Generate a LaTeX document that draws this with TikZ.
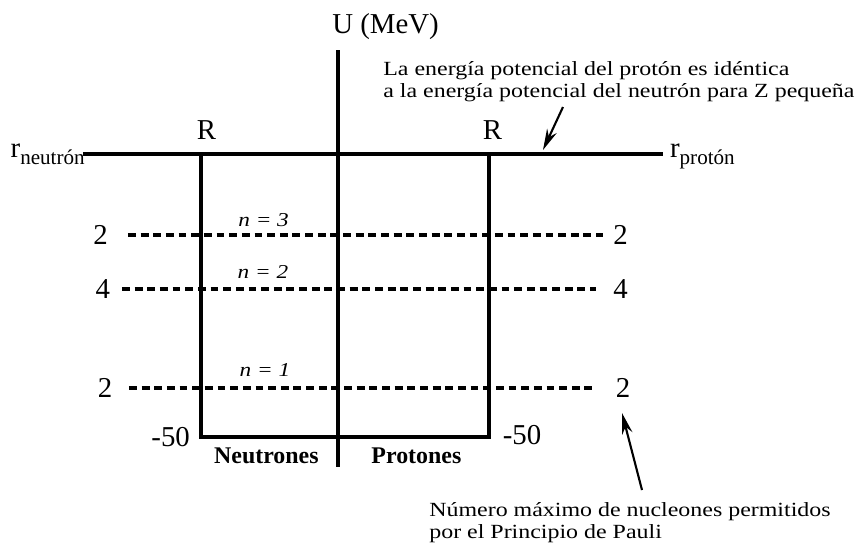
\documentclass[tikz,border=0pt]{standalone}
\usepackage{fontspec}
\setmainfont{Liberation Serif}
\usetikzlibrary{arrows.meta, positioning}

\tikzset{
  axisline/.style={line width=2.5pt},
  levelline/.style={line width=2.5pt, dash pattern=on 5.6pt off 3.4pt},
  biglabel/.style={font=\fontsize{20.5}{24}\selectfont, inner sep=2pt},
  notelabel/.style={font=\fontsize{14.3}{15.6}\selectfont, align=left, inner sep=0pt, xscale=1.19, transform shape},
  nlabel/.style={font=\fontsize{14}{17}\selectfont\itshape, inner sep=1pt, xscale=1.18, transform shape},
  sidelabel/.style={font=\fontsize{17}{20}\selectfont\bfseries, inner sep=1pt},
  pointer/.style={-{Stealth[length=15pt, width=7.5pt]}, line width=1.5pt},
}
\newcommand{\rsub}[1]{r\raisebox{-5.5pt}{\fontsize{15}{17}\selectfont #1}}

\begin{document}
\begin{tikzpicture}
    \useasboundingbox (-8.45,-10) rectangle (13.075,3.85);

    % Axes
    \coordinate (rleft) at (-6.375,0);
    \coordinate (rright) at (8.125,0);
    \coordinate (utop) at (0,2.6);
    \coordinate (ubottom) at (0,-7.825);
    \draw[axisline] (rleft) -- (rright);
    \draw[axisline] (utop) -- (ubottom);
    \node (ulabel) [biglabel, anchor=base] at (1.19,3.025) {U (MeV)};
    \node (rneutron) [biglabel, anchor=base east, xshift=0.12cm, yshift=-0.075cm] at (rleft) {\rsub{neutrón}};
    \node (rproton) [biglabel, anchor=base west, xshift=0.1cm, yshift=-0.075cm] at (rright) {\rsub{protón}};

    % Potential well
    \coordinate (wellTL) at (-3.425,0);
    \coordinate (wellBL) at (-3.425,-7.075);
    \coordinate (wellBR) at (3.775,-7.075);
    \coordinate (wellTR) at (3.775,0);
    \draw[axisline] (wellTL) -- (wellBL) -- (wellBR) -- (wellTR);
    \node (rwallL) [biglabel] at (-3.29,0.61) {R};
    \node (rwallR) [biglabel] at (3.86,0.61) {R};
    \node (depthL) [biglabel, left=0.2cm of wellBL] {-50};
    \node (depthR) [biglabel, right=0.27cm of wellBR, yshift=0.05cm] {-50};
    \node (neutrones) [sidelabel] at (-1.79,-7.55) {Neutrones};
    \node (protones) [sidelabel] at (1.96,-7.55) {Protones};

    % Energy levels
    \coordinate (lvlthreeL) at (-5.25,-2.025);
    \coordinate (lvlthreeR) at (6.625,-2.025);
    \coordinate (lvltwoL) at (-5.4,-3.375);
    \coordinate (lvltwoR) at (6.45,-3.375);
    \coordinate (lvloneL) at (-5.225,-5.85);
    \coordinate (lvloneR) at (6.35,-5.85);
    \draw[levelline] (lvlthreeL) -- (lvlthreeR);
    \draw[levelline] (lvltwoL) -- (lvltwoR);
    \draw[levelline] (lvloneL) -- (lvloneR);
    \node (numthreeL) [biglabel, left=0.43cm of lvlthreeL] {2};
    \node (numthreeR) [biglabel, right=0.18cm of lvlthreeR] {2};
    \node (numtwoL) [biglabel, left=0.22cm of lvltwoL] {4};
    \node (numtwoR) [biglabel, right=0.36cm of lvltwoR] {4};
    \node (numoneL) [biglabel, left=0.34cm of lvloneL] {2};
    \node (numoneR) [biglabel, right=0.52cm of lvloneR] {2};
    \node (nthree) [nlabel] at (-1.86,-1.64) {n = 3};
    \node (ntwo) [nlabel] at (-1.875,-2.96) {n = 2};
    \node (none) [nlabel] at (-1.825,-5.41) {n = 1};

    % Notes
    \node (topnote) [notelabel, anchor=north west] at (1.125,2.32) {La energía potencial del protón es idéntica\\a la energía potencial del neutrón para Z pequeña};
    \coordinate (topnotetail) at (5.625,1.175);
    \coordinate (topnotetip) at (5.125,0.1);
    \draw[pointer] (topnotetail) -- (topnotetip);
    \node (botnote) [notelabel, anchor=north west] at (2.275,-8.7) {Número máximo de nucleones permitidos\\por el Principio de Pauli};
    \coordinate (botnotetail) at (7.6,-8.4);
    \coordinate (botnotetip) at (7.1,-6.475);
    \draw[pointer] (botnotetail) -- (botnotetip);
\end{tikzpicture}
\end{document}
